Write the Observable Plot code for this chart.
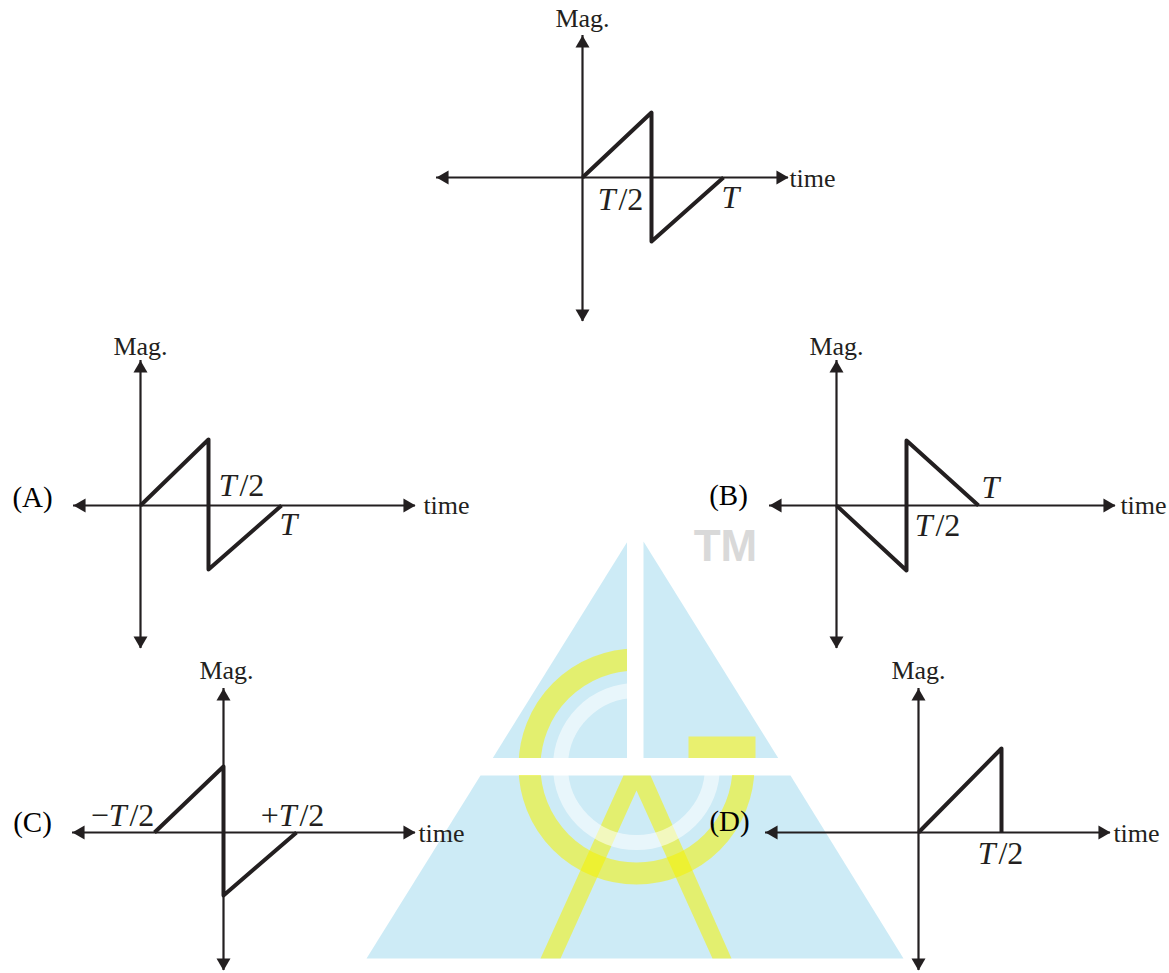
<!DOCTYPE html>
<html>
<head>
<meta charset="utf-8">
<script src="https://cdn.jsdelivr.net/npm/d3@7"></script>
<script src="https://cdn.jsdelivr.net/npm/@observablehq/plot@0.6"></script>
<style>html,body{margin:0;padding:0;background:#fff}svg{display:block}</style>
</head>
<body>
<div id="chart"></div>
<script>
// Panels of the figure
const panelNames = ["Q", "A", "B", "C", "D"];
const originX = [582, 140, 836, 223, 918];
const originY = [177, 505, 505, 832, 832];
const axisLeft = [-146, -67, -67, -151, -153];
const axisRight = [206, 275, 279, 192, 192];
const axisUp = [142, 145, 145, 144, 144];
const axisDown = [144, 143, 143, 138, 138];

// Waveforms: time offset and magnitude
const waveTime = [
  [0, 69, 69, 141],
  [0, 68, 68, 141],
  [0, 70, 70, 142],
  [-69, 0, 0, 73],
  [0, 83, 83]
];
const waveMag = [
  [0, 65, -64, 0],
  [0, 66, -64, 0],
  [0, -65, 65, 0],
  [0, 66, -63, 0],
  [0, 84, 0]
];

// Labels
const magX = [582, 140, 836, 226, 918];
const magY = [18, 346, 346, 670, 670];
const timeX = [812, 446, 1143, 441, 1136];
const timeY = [178, 505, 505, 833, 833];
const optionNames = ["(A)", "(B)", "(C)", "(D)"];
const optionX = [32, 728, 32, 729];
const optionY = [497, 495, 822, 821];
const markNames = ["T/2", "T", "T/2", "T", "T/2", "T", "−T/2", "+T/2", "T/2"];
const markX = [620, 730, 241, 288, 937, 990, 122, 292, 1000];
const markY = [199, 197, 485, 524, 525, 487, 815, 815, 853];

// Watermark
const triUpperLeftX = [492, 627, 627], triUpperLeftY = [758, 541, 758];
const triUpperRightX = [643, 643, 778], triUpperRightY = [758, 541, 758];
const triLowerX = [366, 480, 790, 903], triLowerY = [958, 775, 775, 958];
const letterX = [540, 623, 650, 731, 712, 636, 560];
const letterY = [958, 775, 775, 958, 958, 790, 958];
const flagX = [688, 755, 755, 688], flagY = [736, 736, 758, 758];

const panels = panelNames.map((name, i) => ({name, ox: originX[i], oy: originY[i]}));
const zip = (xs, ys) => xs.map((x, i) => ({x, y: ys[i]}));

const hAxis = panels.map((p, i) => ({x1: p.ox + axisLeft[i], x2: p.ox + axisRight[i], y: p.oy}));
const vAxis = panels.map((p, i) => ({x: p.ox, y1: p.oy - axisUp[i], y2: p.oy + axisDown[i]}));
const waves = panels.flatMap((p, i) =>
  waveTime[i].map((t, j) => ({name: p.name, x: p.ox + t, y: p.oy - waveMag[i][j]})));

const headInset = 8;
const heads = panels.flatMap((p, i) => [
  {x: p.ox + axisLeft[i] + headInset, y: p.oy, rotate: -90},
  {x: p.ox + axisRight[i] - headInset, y: p.oy, rotate: 90},
  {x: p.ox, y: p.oy - axisUp[i] + headInset, rotate: 0},
  {x: p.ox, y: p.oy + axisDown[i] - headInset, rotate: 180}
]);

const serif = "Liberation Serif, Times New Roman, serif";
const ink = "#231f20";
const blue = "#cdebf6";
const yellow = "#f6f200";

const plot = Plot.plot({
  width: 1169,
  height: 973,
  margin: 0,
  x: {domain: [0, 1169], range: [0, 1169], axis: null},
  y: {domain: [0, 973], range: [0, 973], axis: null},
  marks: [
    // watermark
    Plot.line(zip(triUpperLeftX, triUpperLeftY), {x: "x", y: "y", fill: blue, stroke: "none"}),
    Plot.line(zip(triLowerX, triLowerY), {x: "x", y: "y", fill: blue, stroke: "none"}),
    Plot.dot([{x: 636, y: 766}], {x: "x", y: "y", r: 107, stroke: yellow, strokeWidth: 22, strokeOpacity: 0.55, fill: "none"}),
    Plot.line(zip(letterX, letterY), {x: "x", y: "y", fill: yellow, fillOpacity: 0.55, stroke: "none"}),
    Plot.dot([{x: 636, y: 766}], {x: "x", y: "y", r: 76, stroke: "#fff", strokeWidth: 15, strokeOpacity: 0.55, fill: "none"}),
    Plot.rect([{x1: 627, x2: 760, y1: 530, y2: 758}], {x1: "x1", x2: "x2", y1: "y1", y2: "y2", fill: "#fff"}),
    Plot.line(zip(triUpperRightX, triUpperRightY), {x: "x", y: "y", fill: blue, stroke: "none"}),
    Plot.line(zip(flagX, flagY), {x: "x", y: "y", fill: "#e9f06f", stroke: "none"}),
    Plot.rect([{x1: 480, x2: 800, y1: 758, y2: 775}], {x1: "x1", x2: "x2", y1: "y1", y2: "y2", fill: "#fff"}),
    Plot.text(["TM"], {x: 725, y: 546, text: d => d, fontFamily: "Liberation Sans, Arial, sans-serif", fontWeight: "bold", fontSize: 44, fill: "#d9d9d9"}),

    // axes
    Plot.ruleY(hAxis, {x1: "x1", x2: "x2", y: "y", stroke: ink, strokeWidth: 2.2}),
    Plot.ruleX(vAxis, {x: "x", y1: "y1", y2: "y2", stroke: ink, strokeWidth: 2.2}),
    Plot.dot(heads, {x: "x", y: "y", rotate: "rotate", symbol: "triangle", r: 5.2, fill: ink, stroke: "none"}),

    // waveforms
    Plot.line(waves, {x: "x", y: "y", z: "name", stroke: ink, strokeWidth: 4, strokeLinejoin: "round", strokeLinecap: "butt"}),

    // labels
    Plot.text(magX.map(() => "Mag."), {x: magX, y: magY, fontFamily: serif, fontSize: 26, fill: ink}),
    Plot.text(timeX.map(() => "time"), {x: timeX, y: timeY, fontFamily: serif, fontSize: 26, fill: ink}),
    Plot.text(optionNames, {x: optionX, y: optionY, fontFamily: serif, fontSize: 29, fill: "#000"}),
    Plot.text(markNames, {x: markX, y: markY, fontFamily: serif, fontSize: 32, fill: ink, className: "tmark"})
  ]
});

// Italicise the T of each period label, keeping the label one text element
d3.select(plot).selectAll(".tmark text").each(function () {
  const label = this.textContent;
  const at = label.indexOf("T");
  const parts = [label.slice(0, at), "T", label.slice(at + 1)];
  this.textContent = "";
  parts.forEach((part, i) => {
    if (!part) return;
    const span = document.createElementNS("http://www.w3.org/2000/svg", "tspan");
    span.textContent = part;
    if (i === 1) span.setAttribute("font-style", "italic");
    if (i === 2) span.setAttribute("dx", "3");
    this.appendChild(span);
  });
});

document.getElementById("chart").appendChild(plot);
</script>
</body>
</html>
